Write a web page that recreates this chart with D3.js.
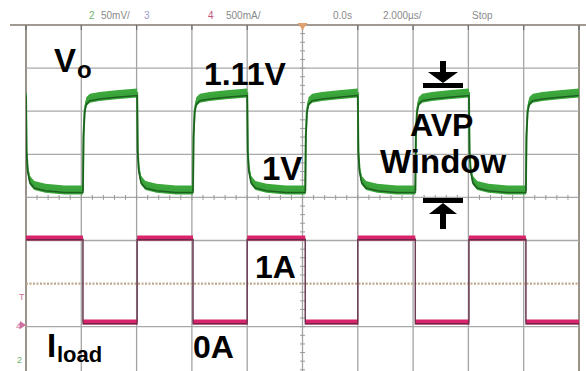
<!DOCTYPE html>
<html>
<head>
<meta charset="utf-8">
<script src="https://cdn.jsdelivr.net/npm/d3@7/dist/d3.min.js"></script>
<style>
  html, body { margin: 0; padding: 0; background: #ffffff; }
  svg { display: block; }
</style>
</head>
<body>
<svg id="scope" width="586" height="371"></svg>
<script>
// Time base: 2 µs per division, 10 divisions, trigger at 0.
const timeTicks = [-10, -8, -6, -4, -2, 0, 2, 4, 6, 8, 10];
const divTicks = [4, 3, 2, 1, 0, -1, -2, -3, -4];

// Load step edges (µs) and the load current after each edge (A).
const loadEdges = [-10.0, -7.94, -5.98, -3.96, -2.0, 0.1, 2.0, 4.08, 6.02, 8.08];
const loadLevels = [1, 0, 1, 0, 1, 0, 1, 0, 1, 0];

// Output voltage response after a load release (V rises) and a load step (V falls): [µs after edge, V].
const releaseResponse = [[0, 1.000], [0.02, 1.062], [0.06, 1.090], [0.12, 1.100], [0.25, 1.104], [0.6, 1.106], [1.2, 1.108], [2.1, 1.110]];
const stepResponse = [[0, 1.110], [0.02, 1.045], [0.06, 1.024], [0.14, 1.011], [0.3, 1.005], [0.7, 1.002], [1.4, 1.000], [2.1, 1.000]];

// Header text of the scope display.
const headerItems = [
  { text: "2", x: 89, color: "#6fb56f" },
  { text: "50mV/", x: 101, color: "#8a8a8a" },
  { text: "3", x: 144, color: "#9c9ccc" },
  { text: "4", x: 208, color: "#c8507a" },
  { text: "500mA/", x: 226, color: "#8a8a8a" },
  { text: "0.0s", x: 333, color: "#8a8a8a" },
  { text: "2.000µs/", x: 383, color: "#8a8a8a" },
  { text: "Stop", x: 472, color: "#8a8a8a" }
];

const svg = d3.select("#scope");
const x = d3.scaleLinear().domain([-10, 10]).range([26, 579]);
const yDiv = d3.scaleLinear().domain([4, -4]).range([25, 369.8]);
const yVo = d3.scaleLinear().domain([1.0, 1.11]).range([190, 93]);
const yI = d3.scaleLinear().domain([0, 1]).range([322, 238]);

svg.append("defs").append("clipPath").attr("id", "plotclip")
  .append("rect").attr("x", 26).attr("y", 25).attr("width", 553).attr("height", 346);

// Graticule
const grid = svg.append("g");
grid.selectAll("line.v").data(timeTicks).join("line")
  .attr("x1", d => x(d)).attr("x2", d => x(d))
  .attr("y1", 25).attr("y2", 371)
  .attr("stroke", (d, i) => (i === 0 || i === timeTicks.length - 1) ? "#8f877c" : "#a3a3a3")
  .attr("stroke-width", (d, i) => (i === 0 || i === timeTicks.length - 1) ? 1.8 : 1.3);
grid.selectAll("line.h").data(divTicks.filter(d => d !== 4 && d !== -4 && d !== -2)).join("line")
  .attr("x1", x(-10)).attr("x2", x(10))
  .attr("y1", d => yDiv(d)).attr("y2", d => yDiv(d))
  .attr("stroke", "#a8a8a8").attr("stroke-width", 1.3);
// trigger level line (dotted)
grid.append("line")
  .attr("x1", x(-10)).attr("x2", x(10)).attr("y1", yDiv(-2)).attr("y2", yDiv(-2))
  .attr("stroke", "#bfa98e").attr("stroke-width", 2.4).attr("stroke-dasharray", "2,1.5");
// top frame line
grid.append("line").attr("x1", 10).attr("x2", 586).attr("y1", 25).attr("y2", 25)
  .attr("stroke", "#a09a92").attr("stroke-width", 1.8);
// small ticks under the top frame
grid.selectAll("line.tt").data(timeTicks).join("line")
  .attr("x1", d => x(d)).attr("x2", d => x(d)).attr("y1", 25).attr("y2", 30)
  .attr("stroke", "#6d6d6d").attr("stroke-width", 1.2);

// minor ticks on the centre axes
const minorX = d3.range(-10, 10.01, 0.4);
grid.selectAll("line.mx").data(minorX).join("line")
  .attr("x1", d => x(d)).attr("x2", d => x(d))
  .attr("y1", yDiv(0) - 2.5).attr("y2", yDiv(0) + 2.5)
  .attr("stroke", "#9a9a9a").attr("stroke-width", 1);
const minorY = d3.range(-4, 4.01, 0.2);
grid.selectAll("line.my").data(minorY).join("line")
  .attr("x1", x(0) - 2.5).attr("x2", x(0) + 2.5)
  .attr("y1", d => yDiv(d)).attr("y2", d => yDiv(d))
  .attr("stroke", "#9a9a9a").attr("stroke-width", 1);

// trigger position marker
svg.append("path")
  .attr("d", `M${x(0) - 5},23 L${x(0) + 5},23 L${x(0)},30 Z`)
  .attr("fill", "#e0a070");

// Build waveforms from the edge list
const voPoints = [];
const iPoints = [];
loadEdges.forEach((t0, i) => {
  const t1 = i + 1 < loadEdges.length ? loadEdges[i + 1] : 10;
  const resp = loadLevels[i] === 1 ? stepResponse : releaseResponse;
  resp.forEach(([dt, v]) => { if (t0 + dt <= t1) voPoints.push([t0 + dt, v]); });
  voPoints.push([t1, resp[resp.length - 1][1]]);
  iPoints.push([t0, loadLevels[i]]);
  iPoints.push([t1, loadLevels[i]]);
});

const plot = svg.append("g").attr("clip-path", "url(#plotclip)");

// Vo trace: noisy band on flat parts, thin line on the edges
const voArea = d3.area().x(d => x(d[0])).y0(d => yVo(d[1]) - 4.5).y1(d => yVo(d[1]) + 4.5);
plot.append("path").datum(voPoints).attr("d", voArea).attr("fill", "#3ca83c");
plot.append("path").datum(voPoints)
  .attr("d", d3.line().x(d => x(d[0])).y(d => yVo(d[1])))
  .attr("fill", "none").attr("stroke", "#3aa23a").attr("stroke-width", 2);
plot.append("path").datum(voPoints)
  .attr("d", d3.line().x(d => x(d[0])).y(d => yVo(d[1]) + 2.5))
  .attr("fill", "none").attr("stroke", "#17531b").attr("stroke-width", 1.6).attr("opacity", 0.85);

// Load current trace
const iArea = d3.area().x(d => x(d[0])).y0(d => yI(d[1]) - 2.6).y1(d => yI(d[1]) + 2.6);
plot.append("path").datum(iPoints)
  .attr("d", d3.line().x(d => x(d[0])).y(d => yI(d[1])))
  .attr("fill", "none").attr("stroke", "#94808a").attr("stroke-width", 1);
plot.append("path").datum(iPoints).attr("d", iArea).attr("fill", "#d8246a");
plot.append("path").datum(iPoints)
  .attr("d", d3.line().x(d => x(d[0])).y(d => yI(d[1]) + 1.8))
  .attr("fill", "none").attr("stroke", "#5c2440").attr("stroke-width", 1.4).attr("opacity", 0.8);

// Header
svg.append("g").selectAll("text").data(headerItems).join("text")
  .attr("x", d => d.x).attr("y", 19)
  .attr("font-family", "Liberation Sans, Arial, sans-serif").attr("font-size", 10)
  .attr("fill", d => d.color).text(d => d.text);

// Channel markers at the left edge
const markers = svg.append("g").attr("font-family", "Liberation Sans, Arial, sans-serif").attr("font-size", 9);
markers.append("text").attr("x", 19).attr("y", 300).attr("fill", "#d070a0").text("T");
markers.append("text").attr("x", 16).attr("y", 329).attr("fill", "#d070a0").text("4");
markers.append("path").attr("d", "M20,321 L26,325 L20,329 Z").attr("fill", "#d070a0");
markers.append("text").attr("x", 17).attr("y", 363).attr("fill", "#70b070").text("2");

// Annotations
const ann = svg.append("g").attr("font-family", "Liberation Sans, Arial, sans-serif")
  .attr("font-weight", "bold").attr("fill", "#000");
ann.append("text").attr("x", 54).attr("y", 72).attr("font-size", 33).text("V");
ann.append("text").attr("x", 77).attr("y", 78).attr("font-size", 24).text("o");
ann.append("text").attr("x", 204).attr("y", 85).attr("font-size", 32).text("1.11V");
ann.append("text").attr("x", 262).attr("y", 180).attr("font-size", 33).text("1V");
ann.append("text").attr("x", 410).attr("y", 136).attr("font-size", 32).text("AVP");
ann.append("text").attr("x", 380).attr("y", 173).attr("font-size", 33).text("Window");
ann.append("text").attr("x", 255).attr("y", 278).attr("font-size", 32).text("1A");
ann.append("text").attr("x", 193).attr("y", 358).attr("font-size", 32).text("0A");
ann.append("text").attr("x", 47).attr("y", 357).attr("font-size", 33).text("I");
ann.append("text").attr("x", 57).attr("y", 362).attr("font-size", 22).text("load");

// AVP window arrows
const arrows = svg.append("g").attr("fill", "#000");
arrows.append("rect").attr("x", 423).attr("y", 83).attr("width", 40).attr("height", 5);
arrows.append("rect").attr("x", 440).attr("y", 61).attr("width", 6).attr("height", 14);
arrows.append("path").attr("d", "M428,72 L458,72 L443,83 Z");
arrows.append("rect").attr("x", 423).attr("y", 198).attr("width", 40).attr("height", 5);
arrows.append("rect").attr("x", 440).attr("y", 212).attr("width", 6).attr("height", 17);
arrows.append("path").attr("d", "M429,214 L457,214 L443,203 Z");
</script>
</body>
</html>
